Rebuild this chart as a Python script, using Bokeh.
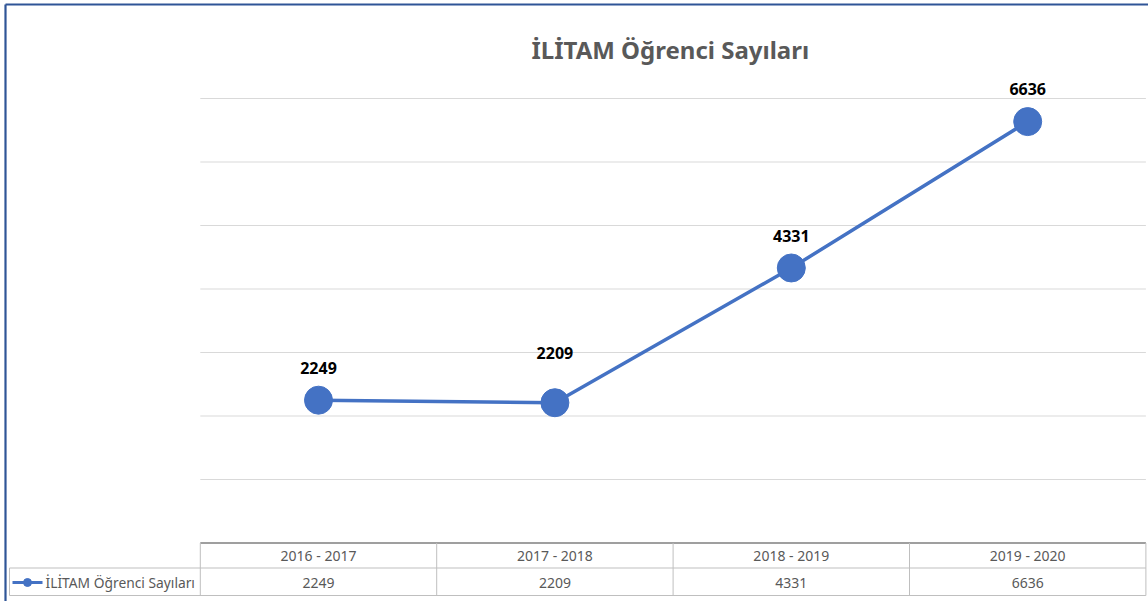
from bokeh.plotting import figure
from bokeh.models import Range1d
from bokeh.core.properties import value
from bokeh.embed import file_html
from bokeh.resources import INLINE

# ---------------- data ----------------
categories = ["2016 - 2017", "2017 - 2018", "2018 - 2019", "2019 - 2020"]
students = [2249, 2209, 4331, 6636]
series_name = "İLİTAM Öğrenci Sayıları"
title_text = "İLİTAM Öğrenci Sayıları"
grid_values = [1000, 2000, 3000, 4000, 5000, 6000, 7000]

# ---------------- style ----------------
BLUE = "#4472C4"
FRAME_BLUE = "#2F5597"
FONT = "Noto Sans"
TEXT_GRAY = "#595959"
GRID = "#d9d9d9"
TABLE = "#bfbfbf"
label_offsets = [-32, -50, -32, -33]   # screen px above each point (Excel label placement)

W, H = 1148, 601
PX_X = 236.4          # px per category band
PX_Y = 0.0635         # px per unit
ORIGIN_X = 199.8      # px of band 0 left edge
ORIGIN_Y = 542.5      # px of y = 0

def px_to_x(px):
    return (px - ORIGIN_X) / PX_X

def px_to_y(py):
    return -(py - ORIGIN_Y) / PX_Y

n = len(categories)
xs = [i + 0.5 for i in range(n)]

p = figure(width=W, height=H, output_backend="svg", toolbar_location=None,
           x_range=Range1d(px_to_x(0), px_to_x(W)), y_range=Range1d(px_to_y(H), px_to_y(0)),
           min_border=0,
           styles={"margin-left": "0px", "margin-top": "0px"})
p.axis.visible = False
p.grid.visible = False
p.outline_line_color = None
p.background_fill_color = "white"
p.border_fill_color = "white"

# outer chart-area border (top and left visible)
p.segment(x0=[px_to_x(5), px_to_x(5)], x1=[px_to_x(5), px_to_x(W)],
          y0=[px_to_y(H), px_to_y(4)], y1=[px_to_y(4), px_to_y(4)],
          line_color=FRAME_BLUE, line_width=2.2)

# title
p.text(x=[n / 2 - 0.012], y=[px_to_y(49)], text=[title_text], text_font=value(FONT),
       text_font_size="24px", text_font_style="bold", text_color=TEXT_GRAY,
       text_align="center", text_baseline="middle")

# gridlines
p.segment(x0=[0] * len(grid_values), x1=[n] * len(grid_values), y0=grid_values, y1=grid_values,
          line_color=GRID, line_width=1)

# data table
y_sep = px_to_y(567.5)
y_bot = px_to_y(595)
y_head = px_to_y(555)
y_val = px_to_y(582)
x_leg = px_to_x(9)
p.segment(x0=[0], x1=[n], y0=[0], y1=[0], line_color="#7f7f7f", line_width=1.6)
p.segment(x0=[x_leg, x_leg], x1=[n, n], y0=[y_sep, y_bot], y1=[y_sep, y_bot],
          line_color=TABLE, line_width=1)
p.segment(x0=list(range(n + 1)), x1=list(range(n + 1)), y0=[0] * (n + 1), y1=[y_bot] * (n + 1),
          line_color=TABLE, line_width=1)
p.segment(x0=[x_leg], x1=[x_leg], y0=[y_sep], y1=[y_bot], line_color=TABLE, line_width=1)

p.text(x=xs, y=[y_head] * n, text=categories, text_font=value(FONT), text_font_size="14px",
       text_color=TEXT_GRAY, text_align="center", text_baseline="middle")
p.text(x=xs, y=[y_val] * n, text=[str(v) for v in students], text_font=value(FONT),
       text_font_size="14px", text_color=TEXT_GRAY, text_align="center", text_baseline="middle")

# legend key in table
p.line(x=[px_to_x(12), px_to_x(42)], y=[y_val, y_val], line_color=BLUE, line_width=3)
p.scatter(x=[px_to_x(27)], y=[y_val], size=8, fill_color=BLUE, line_color=BLUE)
p.text(x=[px_to_x(45)], y=[y_val], text=[series_name], text_font=value(FONT),
       text_font_size="13.8px", text_color=TEXT_GRAY, text_align="left", text_baseline="middle")

# series
p.line(x=xs, y=students, line_color=BLUE, line_width=3.5)
p.scatter(x=xs, y=students, size=28, fill_color=BLUE, line_color=BLUE)

# data labels
p.text(x=xs, y=students, text=[str(v) for v in students], y_offset=label_offsets,
       text_font=value(FONT), text_font_size="16px", text_font_style="bold",
       text_color="black", text_align="center", text_baseline="alphabetic")

open("out.html", "w").write(file_html(p, INLINE))
